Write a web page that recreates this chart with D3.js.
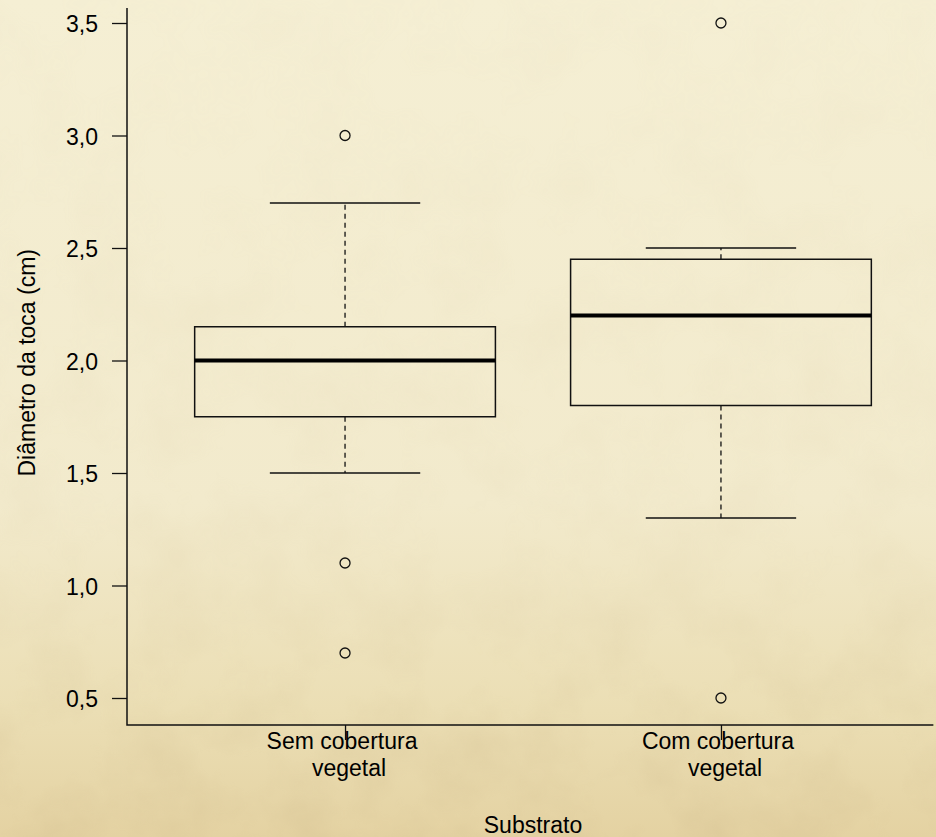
<!DOCTYPE html>
<html>
<head>
<meta charset="utf-8">
<script src="https://cdn.jsdelivr.net/npm/d3@7"></script>
<style>
  html, body { margin: 0; padding: 0; background: #f2ead0; }
  svg { display: block; }
  text { font-family: "Liberation Sans", Arial, Helvetica, sans-serif; fill: #000; }
</style>
</head>
<body>
<svg id="chart" width="936" height="837"></svg>
<script>
// data
var groups = ['Sem cobertura|vegetal', 'Com cobertura|vegetal'];
var whiskerLow = [1.5, 1.3];
var q1 = [1.75, 1.8];
var median = [2.0, 2.2];
var q3 = [2.15, 2.45];
var whiskerHigh = [2.7, 2.5];
var outliers = [[3.0, 1.1, 0.7], [3.5, 0.5]];
var yTicks = [0.5, 1.0, 1.5, 2.0, 2.5, 3.0, 3.5];

var width = 936, height = 837;
var svg = d3.select('#chart');

// parchment background
var defs = svg.append('defs');
var grad = defs.append('linearGradient')
    .attr('id', 'paper')
    .attr('x1', 0).attr('y1', 0).attr('x2', 0).attr('y2', 1);
grad.append('stop').attr('offset', '0%').attr('stop-color', '#f5efd4');
grad.append('stop').attr('offset', '60%').attr('stop-color', '#f2eacc');
grad.append('stop').attr('offset', '85%').attr('stop-color', '#ebdeb4');
grad.append('stop').attr('offset', '100%').attr('stop-color', '#e4d2a2');

var filt = defs.append('filter').attr('id', 'grain')
    .attr('x', 0).attr('y', 0).attr('width', '100%').attr('height', '100%');
filt.append('feTurbulence')
    .attr('type', 'fractalNoise')
    .attr('baseFrequency', '0.014')
    .attr('numOctaves', 4)
    .attr('seed', 7);
filt.append('feColorMatrix')
    .attr('type', 'matrix')
    .attr('values', '0 0 0 0 0.6  0 0 0 0 0.47  0 0 0 0 0.25  0 0 0 -1.6 1.0');

var fade = defs.append('linearGradient')
    .attr('id', 'fade')
    .attr('x1', 0).attr('y1', 0).attr('x2', 0).attr('y2', 1);
fade.append('stop').attr('offset', '0%').attr('stop-color', '#fff').attr('stop-opacity', 0.12);
fade.append('stop').attr('offset', '70%').attr('stop-color', '#fff').attr('stop-opacity', 0.3);
fade.append('stop').attr('offset', '100%').attr('stop-color', '#fff').attr('stop-opacity', 0.9);
defs.append('mask').attr('id', 'fadeMask')
  .append('rect').attr('width', width).attr('height', height).attr('fill', 'url(#fade)');

svg.append('rect')
    .attr('width', width).attr('height', height)
    .attr('fill', 'url(#paper)');
svg.append('rect')
    .attr('width', width).attr('height', height)
    .attr('filter', 'url(#grain)')
    .attr('mask', 'url(#fadeMask)')
    .attr('opacity', 0.35);

// scales (R style: 4% padding around 0.5..2.5 and 0.5..3.5)
var x = d3.scaleLinear().domain([0.42, 2.58]).range([127, 939]);
var y = d3.scaleLinear().domain([0.38, 3.62]).range([725, -4]);
var boxW = 0.8, capW = 0.4;

var g = svg.append('g');

// y axis
var yAxis = d3.axisLeft(y)
    .tickValues(yTicks)
    .tickSize(15)
    .tickPadding(14)
    .tickFormat(function(d) { return d3.format('.1f')(d).replace('.', ','); });
var ya = g.append('g')
    .attr('transform', 'translate(' + x(0.42) + ',0)')
    .call(yAxis);
ya.select('.domain').remove();
ya.selectAll('.tick line').attr('stroke', '#111').attr('stroke-width', 1.3);
ya.selectAll('.tick text')
    .style('font-size', '23px')
    .attr('dy', '0.38em')
    .attr('fill', '#000');

// x axis
var xAxis = d3.axisBottom(x)
    .tickValues([1, 2])
    .tickSize(15)
    .tickFormat('');
var xa = g.append('g')
    .attr('transform', 'translate(0,' + y(0.38) + ')')
    .call(xAxis);
xa.select('.domain').remove();
xa.selectAll('.tick line').attr('stroke', '#111').attr('stroke-width', 1.3);

// L-shaped frame
g.append('path')
    .attr('d', 'M' + x(0.42) + ',' + y(3.567) + 'V' + y(0.38) + 'H' + x(2.565))
    .attr('fill', 'none')
    .attr('stroke', '#111')
    .attr('stroke-width', 1.5);

// category labels (two lines each)
groups.forEach(function(lbl, i) {
    var parts = lbl.split('|');
    var t = g.append('text')
        .attr('text-anchor', 'middle')
        .style('font-size', '23px');
    t.append('tspan').attr('x', x(i + 1) - 3).attr('y', y(0.38) + 24).text(parts[0]);
    t.append('tspan').attr('x', x(i + 1) + 4).attr('y', y(0.38) + 51).text(parts[1]);
});

// boxes
var boxes = g.selectAll('.box')
    .data(groups)
    .enter().append('g')
    .attr('class', 'box');

boxes.append('line')
    .attr('x1', function(d, i) { return x(i + 1); })
    .attr('x2', function(d, i) { return x(i + 1); })
    .attr('y1', function(d, i) { return y(q3[i]); })
    .attr('y2', function(d, i) { return y(whiskerHigh[i]); })
    .attr('stroke', '#111').attr('stroke-width', 1.3)
    .attr('stroke-dasharray', '5,4');
boxes.append('line')
    .attr('x1', function(d, i) { return x(i + 1); })
    .attr('x2', function(d, i) { return x(i + 1); })
    .attr('y1', function(d, i) { return y(q1[i]); })
    .attr('y2', function(d, i) { return y(whiskerLow[i]); })
    .attr('stroke', '#111').attr('stroke-width', 1.3)
    .attr('stroke-dasharray', '5,4');

[whiskerHigh, whiskerLow].forEach(function(arr) {
    boxes.append('line')
        .attr('x1', function(d, i) { return x(i + 1 - capW / 2); })
        .attr('x2', function(d, i) { return x(i + 1 + capW / 2); })
        .attr('y1', function(d, i) { return y(arr[i]); })
        .attr('y2', function(d, i) { return y(arr[i]); })
        .attr('stroke', '#111').attr('stroke-width', 1.5);
});

boxes.append('rect')
    .attr('x', function(d, i) { return x(i + 1 - boxW / 2); })
    .attr('width', function(d, i) { return x(i + 1 + boxW / 2) - x(i + 1 - boxW / 2); })
    .attr('y', function(d, i) { return y(q3[i]); })
    .attr('height', function(d, i) { return y(q1[i]) - y(q3[i]); })
    .attr('fill', 'none')
    .attr('stroke', '#111').attr('stroke-width', 1.5);

boxes.append('line')
    .attr('x1', function(d, i) { return x(i + 1 - boxW / 2); })
    .attr('x2', function(d, i) { return x(i + 1 + boxW / 2); })
    .attr('y1', function(d, i) { return y(median[i]); })
    .attr('y2', function(d, i) { return y(median[i]); })
    .attr('stroke', '#000').attr('stroke-width', 4);

// outliers
outliers.forEach(function(vals, i) {
    g.selectAll('.out' + i)
        .data(vals)
        .enter().append('circle')
        .attr('cx', x(i + 1))
        .attr('cy', function(d) { return y(d); })
        .attr('r', 5)
        .attr('fill', 'none')
        .attr('stroke', '#111')
        .attr('stroke-width', 1.3);
});

// axis titles
g.append('text')
    .attr('text-anchor', 'middle')
    .attr('transform', 'translate(35,' + y(1.99) + ') rotate(-90)')
    .style('font-size', '23px')
    .text('Diâmetro da toca (cm)');

g.append('text')
    .attr('text-anchor', 'middle')
    .attr('x', x(1.5))
    .attr('y', 833)
    .style('font-size', '23px')
    .text('Substrato');
</script>
</body>
</html>
